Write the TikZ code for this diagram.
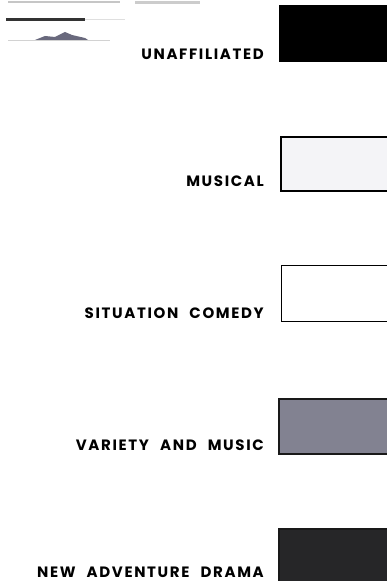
\documentclass[tikz,border=0pt]{standalone}
\usepackage{fontspec}
\setmainfont{Poppins}[LetterSpace=11,WordSpace=2.3]
\definecolor{smudge}{RGB}{105,105,125}
\definecolor{musicalfill}{RGB}{244,244,247}
\definecolor{varietyfill}{RGB}{130,130,145}
\definecolor{adventurefill}{RGB}{38,38,40}
\begin{document}
\begin{tikzpicture}[x=1pt,y=1pt,
  lbl/.style={anchor=base east,inner sep=0pt,font=\fontsize{15}{17}\selectfont\bfseries},
  swatch/.style={line width=1.6pt,draw=black,inner sep=0pt,minimum width=110pt,anchor=north west}]
\useasboundingbox (0,0) rectangle (387,581);
% scan artifacts at top
\fill[gray!45] (8,578) rectangle (120,580);
\fill[gray!40] (135,577) rectangle (200,580);
\fill[black!80] (6,560) rectangle (85,563);
\fill[gray!25] (85,561) rectangle (125,562);
\fill[smudge] (35,541) -- (45,545) -- (55,544) -- (65,549) -- (72,546) -- (85,543) -- (88,541) -- cycle;
\fill[gray!35] (8,540) rectangle (110,541);
% swatches
\node[swatch,fill=black,line width=1pt,minimum height=56pt] (s1) at (279,576) {};
\node[swatch,fill=musicalfill,minimum height=54pt] (s2) at (280,445) {};
\node[swatch,line width=1.2pt,fill=white,minimum height=56pt] (s3) at (281,316) {};
\node[swatch,draw=black!90,fill=varietyfill,minimum height=55pt] (s4) at (278,183) {};
\node[swatch,draw=black!90,fill=adventurefill,minimum height=55pt] (s5) at (278,53) {};
% labels
\node[lbl] (l1) at (264,521) {UNAFFILIATED};
\node[lbl] (l2) at (264,394) {MUSICAL};
\node[lbl] (l3) at (264,262) {SITUATION COMEDY};
\node[lbl] (l4) at (264,130) {VARIETY AND MUSIC};
\node[lbl] (l5) at (264,4) {NEW ADVENTURE DRAMA};
\end{tikzpicture}
\end{document}
